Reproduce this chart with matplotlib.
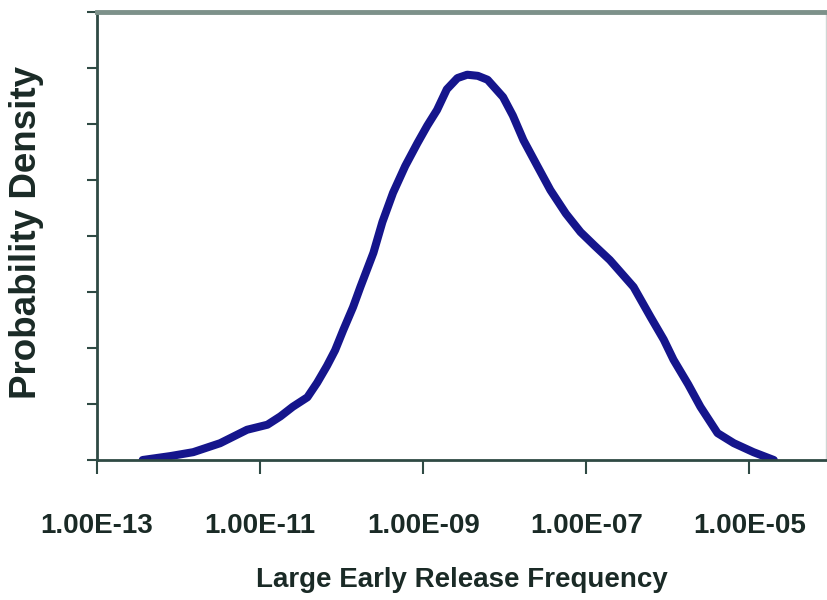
import matplotlib.pyplot as plt
import matplotlib.ticker
import numpy as np

plt.rcParams["font.family"] = ["Liberation Sans", "DejaVu Sans"]

# curve: log10(frequency) and density (in tick units)
log_freq = [-12.44, -12.1, -11.82, -11.49, -11.16, -10.91, -10.75, -10.60,
            -10.42, -10.30, -10.18, -10.08, -9.98, -9.86, -9.77, -9.61,
            -9.50, -9.37, -9.22, -9.07, -8.95, -8.83, -8.71, -8.58, -8.46,
            -8.33, -8.21, -8.02, -7.90, -7.77, -7.60, -7.44, -7.25, -7.07,
            -6.90, -6.71, -6.42, -6.21, -6.05, -5.93, -5.75, -5.60, -5.39,
            -5.19, -4.95, -4.70]
density = [0.0, 0.07, 0.14, 0.30, 0.54, 0.63, 0.78, 0.95,
           1.12, 1.38, 1.68, 1.96, 2.32, 2.73, 3.09, 3.70,
           4.25, 4.77, 5.25, 5.66, 5.97, 6.25, 6.62, 6.82, 6.88,
           6.86, 6.79, 6.48, 6.15, 5.71, 5.25, 4.82, 4.40, 4.07,
           3.83, 3.57, 3.09, 2.55, 2.15, 1.79, 1.35, 0.95, 0.48,
           0.30, 0.14, 0.0]
tick_exps = [-13, -11, -9, -7, -5]

freq = 10.0 ** np.array(log_freq)

fig = plt.figure(figsize=(8.27, 6.0), dpi=100)
ax = fig.add_axes([97 / 827, 140 / 600, 729 / 827, 448 / 600])
ax.plot(freq, density, color="#15158c", lw=5.8, solid_capstyle="round",
        solid_joinstyle="round")
ax.set_xscale("log")
ax.set_xlim(1e-13, 10 ** -4.06)
ax.set_ylim(0, 8)

ax.xaxis.set_major_locator(matplotlib.ticker.FixedLocator([10.0 ** e for e in tick_exps]))
ax.xaxis.set_minor_locator(matplotlib.ticker.NullLocator())
ax.set_xticklabels([f"1.00E{e:03d}" for e in tick_exps])
ax.set_yticks(range(9))
ax.set_yticklabels([])
ax.tick_params(axis="x", direction="out", length=10, width=1.5, color="#2f4a44",
               labelsize=20, pad=28, labelcolor="#1a2a26")
ax.tick_params(axis="y", direction="out", length=7, width=1.5, color="#2f4a44")
for lab in ax.get_xticklabels():
    lab.set_fontweight("bold")

for side in ("left", "bottom"):
    ax.spines[side].set_color("#2f4a44")
    ax.spines[side].set_linewidth(2)
ax.spines["top"].set_color("#7d918a")
ax.spines["top"].set_linewidth(3.5)
ax.spines["right"].set_color("#d0d6d4")
ax.spines["right"].set_linewidth(1)

ax.set_xlabel("Large Early Release Frequency", fontsize=20, fontweight="bold",
              color="#1a2a26", labelpad=20)
ax.set_ylabel("Probability Density", fontsize=26.5, fontweight="bold",
              color="#1a2a26", va="center")
ax.yaxis.set_label_coords(-70 / 729, 0.508)

fig.savefig("out.png", dpi=100)
